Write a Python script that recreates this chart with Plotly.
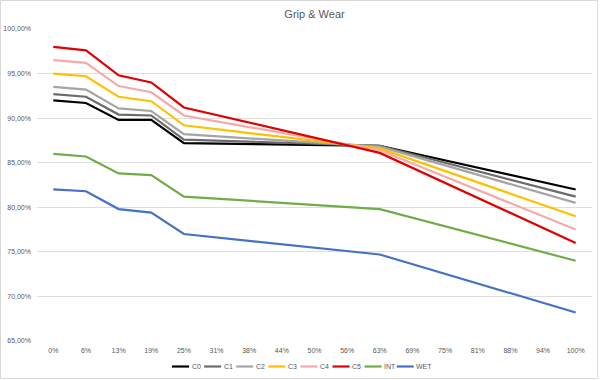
import plotly.graph_objects as go

categories = ["0%", "6%", "13%", "19%", "25%", "31%", "38%", "44%", "50%",
              "56%", "63%", "69%", "75%", "81%", "88%", "94%", "100%"]

# values (percent); None = no point (line connects across)
N = None
c0 = [92.0, 91.7, 89.8, 89.8, 87.2, N, N, N, N, N, 86.9, N, N, N, N, N, 82.0]
c1 = [92.7, 92.4, 90.4, 90.3, 87.6, N, N, N, N, N, 86.9, N, N, N, N, N, 81.2]
c2 = [93.5, 93.2, 91.1, 90.8, 88.2, N, N, N, N, N, 86.8, N, N, N, N, N, 80.5]
c3 = [95.0, 94.7, 92.4, 91.9, 89.2, N, N, N, N, N, 86.6, N, N, N, N, N, 79.0]
c4 = [96.5, 96.2, 93.6, 92.9, 90.3, N, N, N, N, N, 86.4, N, N, N, N, N, 77.5]
c5 = [98.0, 97.6, 94.8, 94.0, 91.2, N, N, N, N, N, 86.1, N, N, N, N, N, 76.0]
inter = [86.0, 85.7, 83.8, 83.6, 81.2, N, N, N, N, N, 79.8, N, N, N, N, N, 74.0]
wet = [82.0, 81.8, 79.8, 79.4, 77.0, N, N, N, N, N, 74.7, N, N, N, N, N, 68.2]

series_names = ["C0", "C1", "C2", "C3", "C4", "C5", "INT", "WET"]
series_values = [c0, c1, c2, c3, c4, c5, inter, wet]
colors = ["#000000", "#6b6b6b", "#a5a5a5", "#ffc000", "#f4aaaa", "#e00000", "#70ad47", "#4472c4"]

y_tickvals = [65, 70, 75, 80, 85, 90, 95, 100]
y_ticktext = ["65,00%", "70,00%", "75,00%", "80,00%", "85,00%", "90,00%", "95,00%", "100,00%"]

FONT = "Liberation Sans, Arial, sans-serif"
ML, MR, MT, MB = 37, 8, 29, 39
PW, PH = 600 - ML - MR, 380 - MT - MB


def px_x(p):
    return (p - ML) / PW


def px_y(p):
    return (380 - MB - p) / PH


fig = go.Figure()
for name, vals, col in zip(series_names, series_values, colors):
    fig.add_trace(go.Scatter(
        x=categories, y=vals, name=name, mode="lines",
        connectgaps=True, line=dict(color=col, width=2.2),
    ))

fig.update_layout(
    width=600, height=380,
    paper_bgcolor="white", plot_bgcolor="white",
    margin=dict(l=ML, r=MR, t=MT, b=MB, autoexpand=False),
    font=dict(family=FONT, size=7, color="#595959"),
    title=dict(text="Grip & Wear", x=0.5, xanchor="center", xref="paper",
               y=1 - 14 / 380, yanchor="middle", yref="container",
               font=dict(family=FONT, size=11, color="#595959")),
    showlegend=False,
)
fig.update_xaxes(type="category", categoryorder="array", categoryarray=categories,
                 range=[-0.5, 16.5], showgrid=False, showline=False, automargin=False,
                 zeroline=False, ticks="", ticklabelstandoff=4,
                 tickfont=dict(family=FONT, size=7, color="#595959"))
fig.update_yaxes(range=[65, 100], tickvals=y_tickvals, ticktext=y_ticktext,
                 showgrid=True, gridcolor="#dedede", gridwidth=1, zeroline=False,
                 showline=False, ticks="", ticklabelstandoff=5, automargin=False,
                 tickfont=dict(family=FONT, size=7, color="#595959"))

# compact legend below the plot (line sample + label per series)
LEG_X0, LEG_STEP, LEG_Y, SAMPLE = 172, 32.1, 366.5, 17
for i, (name, col) in enumerate(zip(series_names, colors)):
    x0 = LEG_X0 + LEG_STEP * i
    fig.add_shape(type="line", xref="paper", yref="paper",
                  x0=px_x(x0), x1=px_x(x0 + SAMPLE), y0=px_y(LEG_Y), y1=px_y(LEG_Y),
                  line=dict(color=col, width=2.2))
    fig.add_annotation(text=name, xref="paper", yref="paper",
                       x=px_x(x0 + SAMPLE + 0.5), y=px_y(LEG_Y), xanchor="left", yanchor="middle",
                       showarrow=False, font=dict(family=FONT, size=7, color="#595959"))

# thin light chart-area border
fig.add_shape(type="rect", xref="paper", yref="paper",
              x0=px_x(0.5), x1=px_x(597.5), y0=px_y(378.5), y1=px_y(0.5),
              line=dict(color="#d9d9d9", width=1), fillcolor="rgba(0,0,0,0)", layer="below")

fig.write_html("out.html", config={"displayModeBar": False},
               post_script="document.body.style.margin='0';")
